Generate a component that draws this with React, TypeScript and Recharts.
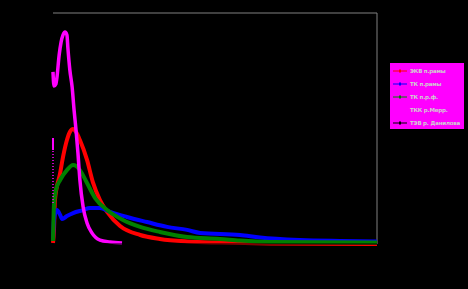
import React from "react";
import { LineChart, Line, XAxis, YAxis, ReferenceLine } from "recharts";

// x: time (arbitrary units 0..100), y: value (0..100)
const redSeries = [
  { x: 0, y: 0.4 }, { x: 0.3, y: 6.1 }, { x: 0.6, y: 19.0 }, { x: 2.2, y: 30.7 },
  { x: 3.1, y: 37.7 }, { x: 4.3, y: 45.0 }, { x: 5.2, y: 48.5 }, { x: 6.2, y: 49.8 },
  { x: 7.1, y: 48.5 }, { x: 8.3, y: 45.0 }, { x: 10.5, y: 36.4 }, { x: 12.3, y: 26.8 },
  { x: 14.5, y: 19.0 }, { x: 16.7, y: 13.9 }, { x: 20.7, y: 7.8 }, { x: 26.9, y: 3.9 },
  { x: 33.0, y: 2.2 }, { x: 41.4, y: 1.1 }, { x: 51.5, y: 0.6 }, { x: 67.0, y: 0.2 },
  { x: 100, y: 0 },
];

const blueSeries = [
  { x: 0, y: 1.7 }, { x: 0.3, y: 10.4 }, { x: 1.2, y: 14.7 }, { x: 2.2, y: 12.6 },
  { x: 2.8, y: 10.8 }, { x: 4.3, y: 12.1 }, { x: 6.2, y: 13.4 }, { x: 9.3, y: 14.7 },
  { x: 11.4, y: 15.6 }, { x: 14.5, y: 15.6 }, { x: 17.6, y: 13.9 }, { x: 22.8, y: 11.7 },
  { x: 29.0, y: 9.5 }, { x: 35.2, y: 7.4 }, { x: 41.4, y: 6.1 }, { x: 45.4, y: 4.8 },
  { x: 57.7, y: 3.9 }, { x: 63.9, y: 2.8 }, { x: 76.2, y: 1.7 }, { x: 88.6, y: 1.3 },
  { x: 100, y: 1.1 },
];

const greenSeries = [
  { x: 0, y: 1.3 }, { x: 0.3, y: 16.9 }, { x: 0.9, y: 23.4 }, { x: 2.2, y: 27.7 },
  { x: 4.3, y: 32.0 }, { x: 6.2, y: 34.2 }, { x: 7.1, y: 33.8 }, { x: 8.3, y: 32.0 },
  { x: 10.5, y: 26.4 }, { x: 13.0, y: 19.9 }, { x: 16.7, y: 14.7 }, { x: 21.6, y: 10.4 },
  { x: 26.9, y: 7.4 }, { x: 33.0, y: 5.2 }, { x: 41.4, y: 3.0 }, { x: 51.5, y: 2.2 },
  { x: 57.7, y: 1.5 }, { x: 67.0, y: 0.9 }, { x: 100, y: 0.6 },
];

const magentaSeries = [
  { x: 0, y: 74.5 }, { x: 0.3, y: 68.4 }, { x: 0.9, y: 69.3 }, { x: 1.2, y: 71.9 },
  { x: 1.9, y: 81.8 }, { x: 2.5, y: 87.4 }, { x: 3.1, y: 90.5 }, { x: 3.7, y: 91.8 },
  { x: 4.3, y: 90.5 }, { x: 4.6, y: 84.8 }, { x: 5.2, y: 75.3 }, { x: 5.9, y: 68.0 },
  { x: 6.5, y: 58.0 }, { x: 7.1, y: 49.4 }, { x: 7.7, y: 39.4 }, { x: 8.3, y: 27.7 },
  { x: 9.3, y: 16.0 }, { x: 10.5, y: 9.1 }, { x: 12.0, y: 4.8 }, { x: 14.5, y: 1.7 },
  { x: 17.6, y: 0.9 }, { x: 21.3, y: 0.4 },
];

const magentaSpikeDotted = [{ x: 0, y: 17.7 }, { x: 0, y: 40.7 }];
const magentaSpikeSolid = [{ x: 0, y: 40.7 }, { x: 0, y: 45.9 }];

const blackSeries = [
  { x: 0, y: 0 }, { x: 100, y: 0 },
];

const legendLabels = ["ЭКВ п.рамы", "ТК п.рамы", "ТК п.р.ф.", "ТКК р.Мерр.", "ТЭВ р. Данилова"];
const legendColors = ["#ff0000", "#0000ff", "#008000", "#ff00ff", "#000000"];

const LegendBox = () => (
  <div
    style={{
      position: "absolute",
      left: 390,
      top: 63,
      width: 74,
      height: 66,
      background: "#ff00ff",
      fontFamily: "DejaVu Sans",
      fontSize: 5.5,
      color: "#cfcfcf",
      fontWeight: "bold",
    }}
  >
    {legendLabels.map((label, i) => (
      <div
        key={label}
        style={{ position: "absolute", left: 0, top: 3 + i * 13, height: 10, display: "flex", alignItems: "center" }}
      >
        <svg width={17} height={10} style={{ marginLeft: 3 }}>
          <line x1={0} y1={5} x2={14} y2={5} stroke={legendColors[i]} strokeWidth={1} />
          <line x1={7} y1={3} x2={7} y2={7} stroke={legendColors[i]} strokeWidth={1} />
          <rect x={6} y={4} width={2} height={2} fill={legendColors[i]} />
        </svg>
        <span style={{ whiteSpace: "nowrap", letterSpacing: -0.2 }}>{label}</span>
      </div>
    ))}
  </div>
);

export default function App() {
  return (
    <div style={{ position: "absolute", left: 0, top: 0, width: 468, height: 289, background: "#000" }}>
      <LineChart width={468} height={289} margin={{ top: 13, right: 91, bottom: 45, left: 53 }}>
        <XAxis type="number" dataKey="x" domain={[0, 100]} hide allowDuplicatedCategory={false} />
        <YAxis type="number" domain={[0, 100]} hide />
        <ReferenceLine y={100} stroke="#808080" strokeWidth={1} ifOverflow="visible" />
        <ReferenceLine x={100} stroke="#808080" strokeWidth={1} ifOverflow="visible" />
        <Line data={redSeries} dataKey="y" name={legendLabels[0]} type="monotone" stroke="#ff0000" strokeWidth={4} dot={false} isAnimationActive={false} />
        <Line data={blueSeries} dataKey="y" name={legendLabels[1]} type="monotone" stroke="#0000ff" strokeWidth={4} dot={false} isAnimationActive={false} />
        <Line data={greenSeries} dataKey="y" name={legendLabels[2]} type="monotone" stroke="#008000" strokeWidth={4} dot={false} isAnimationActive={false} />
        <Line data={magentaSeries} dataKey="y" name={legendLabels[3]} type="monotone" stroke="#ff00ff" strokeWidth={3.5} dot={false} isAnimationActive={false} />
        <Line data={magentaSpikeDotted} dataKey="y" legendType="none" type="linear" stroke="#ff00ff" strokeWidth={1.5} strokeDasharray="1 2" dot={false} isAnimationActive={false} />
        <Line data={magentaSpikeSolid} dataKey="y" legendType="none" type="linear" stroke="#ff00ff" strokeWidth={2} dot={false} isAnimationActive={false} />
        <Line data={blackSeries} dataKey="y" name={legendLabels[4]} type="linear" stroke="#000000" strokeWidth={1} dot={false} isAnimationActive={false} />
      </LineChart>
      <LegendBox />
    </div>
  );
}
